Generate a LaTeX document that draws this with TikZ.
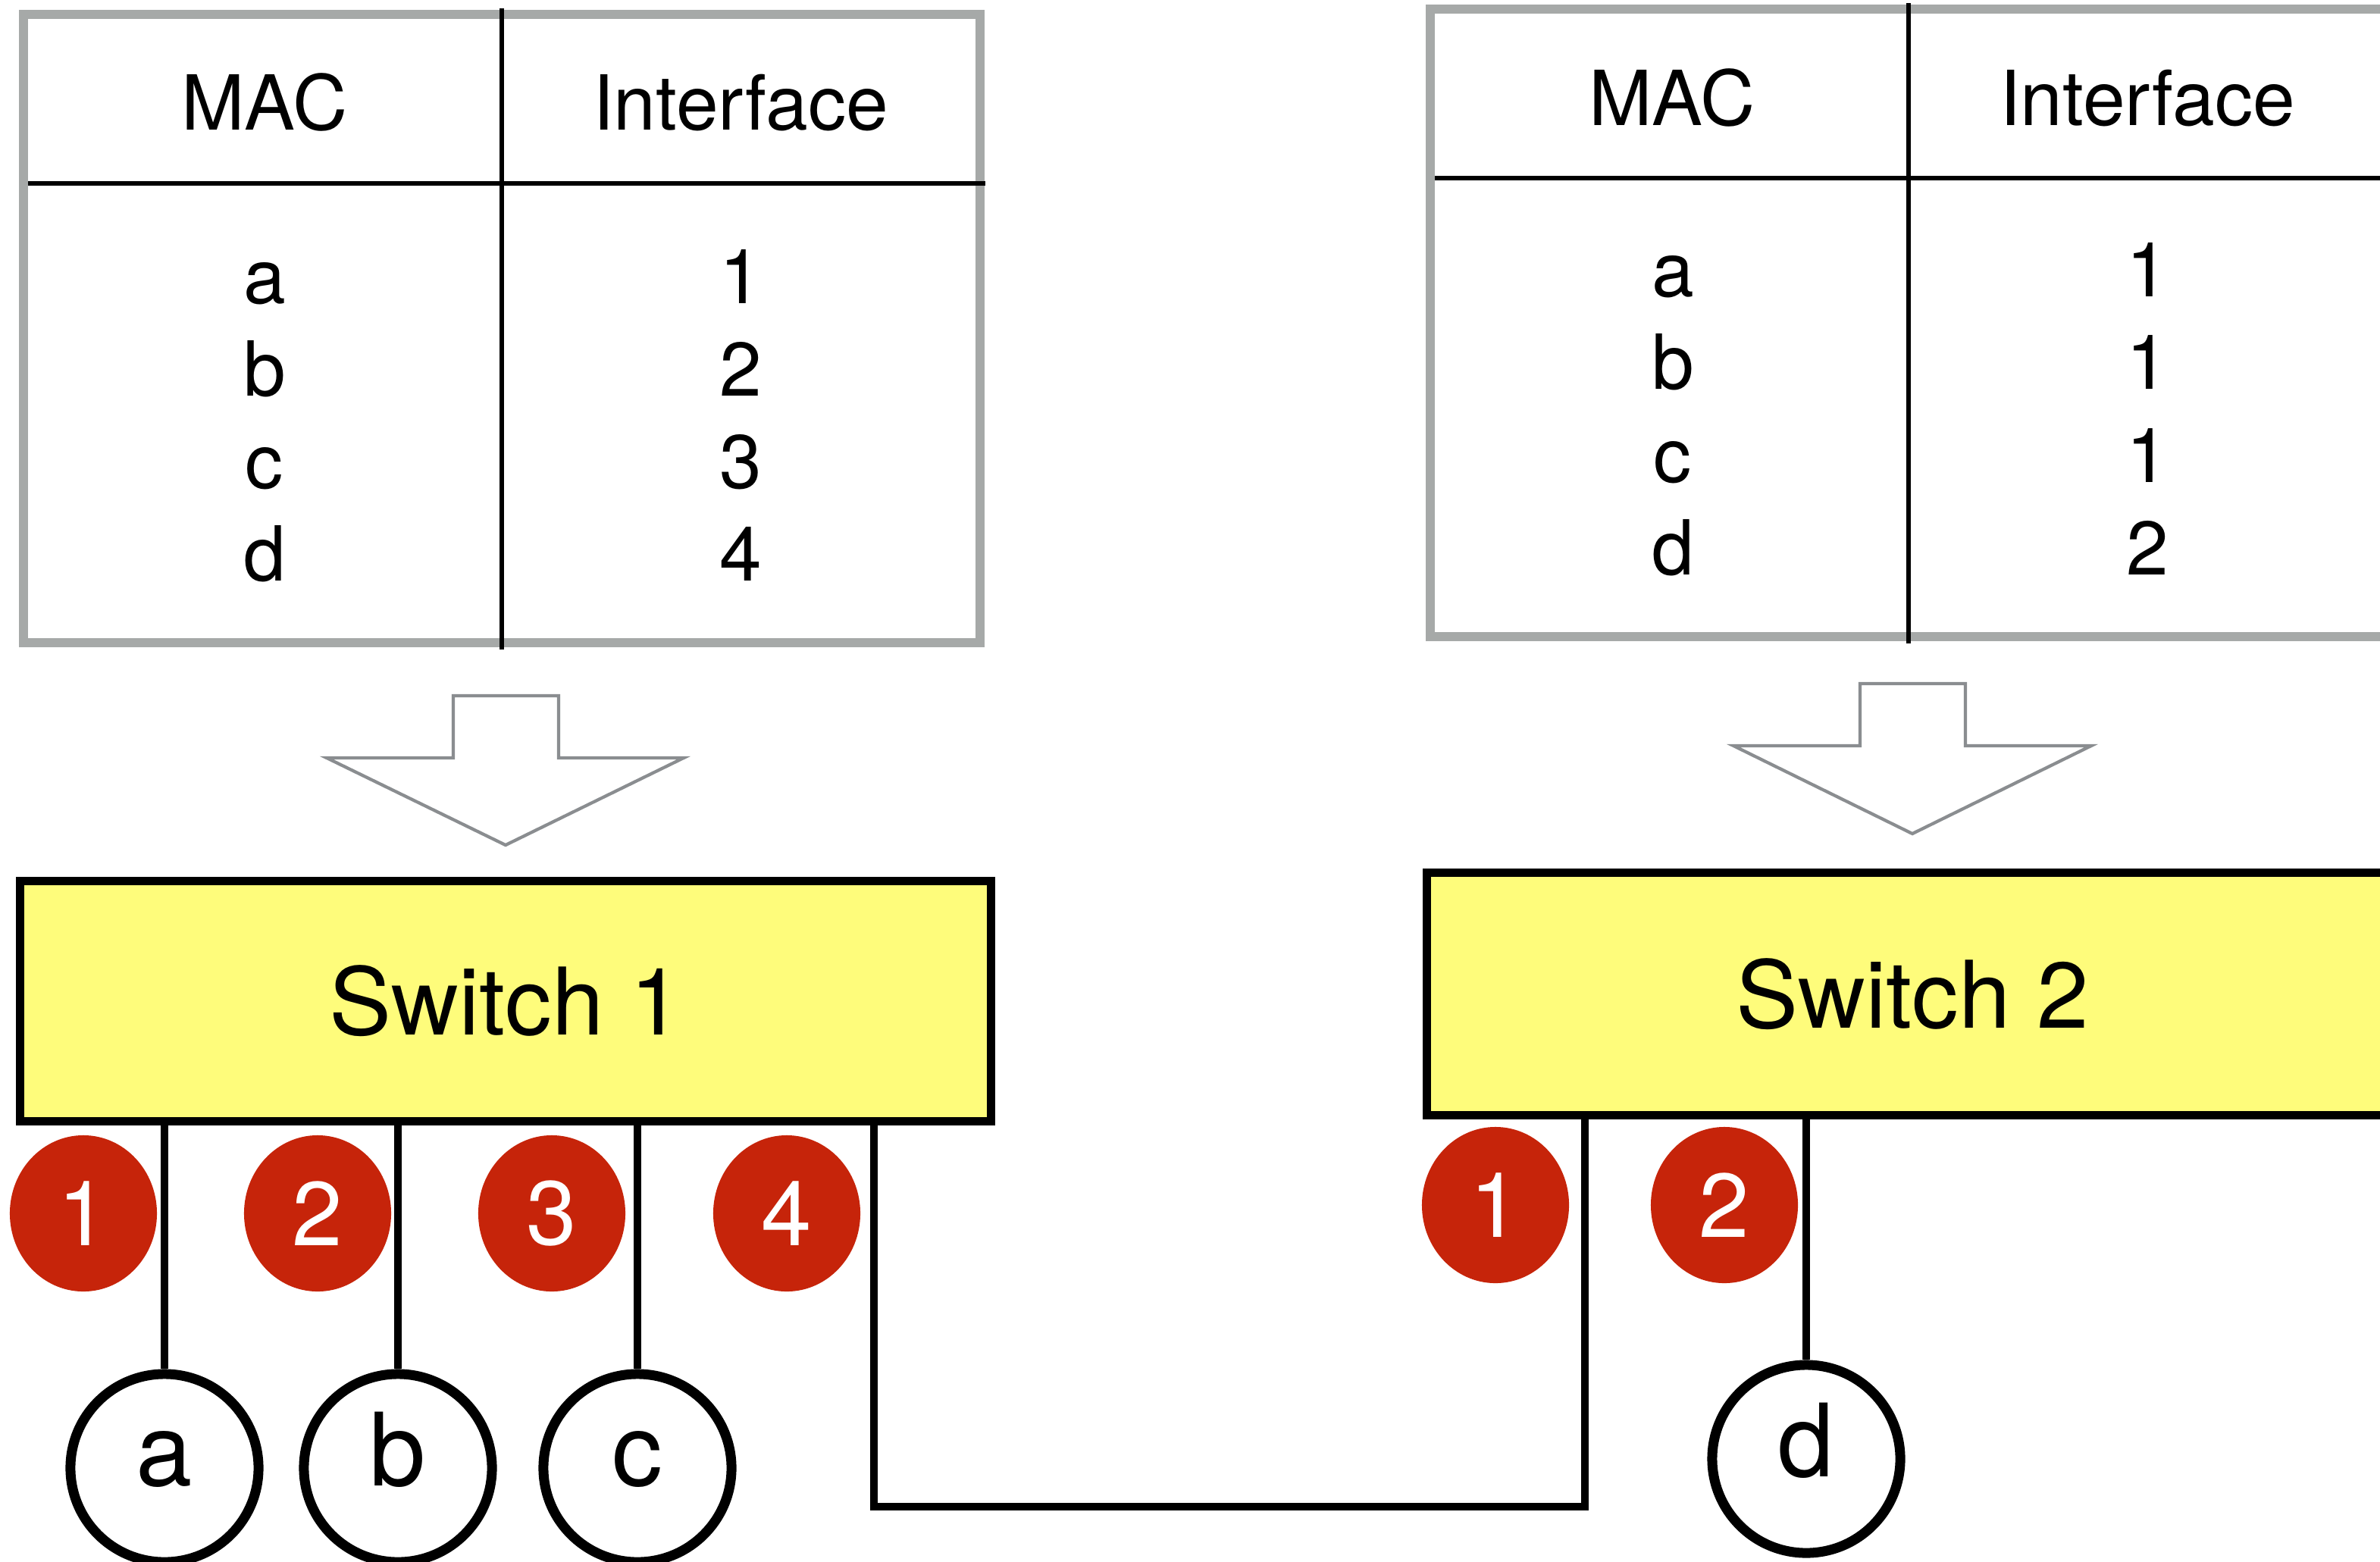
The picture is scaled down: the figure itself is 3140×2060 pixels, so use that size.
\documentclass[tikz,border=0pt]{standalone}
\usepackage{fontspec}
\setmainfont{TeX Gyre Heros}
\usetikzlibrary{shapes.geometric}
\definecolor{tablegray}{HTML}{A6A9A8}
\definecolor{arrowgray}{HTML}{8A8D90}
\definecolor{switchyellow}{HTML}{FEFC7B}
\definecolor{portred}{HTML}{C6240A}
\begin{document}
\begin{tikzpicture}[x=0.01cm,y=-0.01cm,
  tableframe/.style={draw=tablegray,line width=3.4pt},
  tablerule/.style={draw=black,line width=1.5pt},
  celltext/.style={font=\fontsize{28.5}{30}\selectfont,inner sep=0pt,anchor=base},
  flowarrow/.style={draw=arrowgray,line width=1.2pt,line join=miter},
  switchbox/.style={rectangle,draw=black,fill=switchyellow,line width=3.1pt,
    inner sep=0pt,minimum width=12.8cm,minimum height=3.16cm,
    font=\fontsize{35}{40}\selectfont},
  hostnode/.style={circle,draw=black,fill=white,line width=3.7pt,inner sep=0pt,
    minimum size=2.48cm,text height=0.74cm,text depth=0.28cm,
    font=\fontsize{38}{42}\selectfont},
  portbadge/.style={ellipse,fill=portred,inner sep=0pt,
    minimum width=1.94cm,minimum height=2.06cm,text=white,
    font=\fontsize{34}{38}\selectfont},
  wire/.style={draw=black,line width=3pt}
]
\useasboundingbox (0,0) rectangle (3140,2060);
\clip (0,0) rectangle (3140,2060);

% ---- forwarding table of switch 1 ----
\draw[tableframe] (31,19) rectangle (1293,848);
\coordinate (lt-divtop) at (662,11);
\coordinate (lt-divbot) at (662,857);
\coordinate (lt-headl) at (37,242);
\coordinate (lt-headr) at (1300,242);
\draw[tablerule] (lt-divtop) -- (lt-divbot);
\draw[tablerule] (lt-headl) -- (lt-headr);
\node[celltext] (lt-mac) at (349,171) {MAC};
\node[celltext] (lt-if) at (977,171) {Interface};
\foreach \m/\p [count=\i] in {a/1,b/2,c/3,d/4} {
  \node[celltext] (lt-m\i) at (349,{400+122.3*(\i-1)}) {\m};
  \node[celltext] (lt-p\i) at (977,{400+122.3*(\i-1)}) {\p};
}

% ---- forwarding table of switch 2 ----
\draw[tableframe] (1887,12) rectangle (3149,840);
\coordinate (rt-divtop) at (2518,4);
\coordinate (rt-divbot) at (2518,849);
\coordinate (rt-headl) at (1893,235);
\coordinate (rt-headr) at (3150,235);
\draw[tablerule] (rt-divtop) -- (rt-divbot);
\draw[tablerule] (rt-headl) -- (rt-headr);
\node[celltext] (rt-mac) at (2206,165) {MAC};
\node[celltext] (rt-if) at (2833,165) {Interface};
\foreach \m/\p [count=\i] in {a/1,b/1,c/1,d/2} {
  \node[celltext] (rt-m\i) at (2207,{391+122.6*(\i-1)}) {\m};
  \node[celltext] (rt-p\i) at (2833,{391+122.6*(\i-1)}) {\p};
}

% ---- hollow arrows from each table to its switch ----
\draw[flowarrow] (598,918) -- (737,918) -- (737,1000) -- (902,1000)
  -- (667,1115) -- (431,1000) -- (598,1000) -- cycle;
\draw[flowarrow] (2454,902) -- (2593,902) -- (2593,984) -- (2759,984)
  -- (2523,1100) -- (2287,984) -- (2454,984) -- cycle;

% ---- switches ----
\node[switchbox] (sw1) at (667,1321) {Switch 1};
\node[switchbox,minimum height=3.19cm] (sw2) at (2523,1311.5) {Switch 2};

% ---- hosts ----
\node[hostnode] (ha) at (217,1937) {a};
\node[hostnode] (hb) at (525,1937) {b};
\node[hostnode] (hc) at (841,1937) {c};
\node[hostnode] (hd) at (2383,1925) {d};

% ---- port wires ----
\draw[wire] (sw1.south -| ha.north) -- (ha.north);
\draw[wire] (sw1.south -| hb.north) -- (hb.north);
\draw[wire] (sw1.south -| hc.north) -- (hc.north);
\draw[wire] (sw2.south -| hd.north) -- (hd.north);

% ---- trunk between switch 1 port 4 and switch 2 port 1 ----
\coordinate (trunkl) at (1153,1988);
\coordinate (trunkr) at (2091,1988);
\draw[wire,line join=miter] (sw1.south -| trunkl) -- (trunkl) -- (trunkr) -- (sw2.south -| trunkr);

% ---- port numbers ----
\node[portbadge] (s1p1) at (110,1601) {1};
\node[portbadge] (s1p2) at (419,1601) {2};
\node[portbadge] (s1p3) at (728,1601) {3};
\node[portbadge] (s1p4) at (1038,1601) {4};
\node[portbadge] (s2p1) at (1973,1590) {1};
\node[portbadge] (s2p2) at (2275,1590) {2};
\end{tikzpicture}
\end{document}
